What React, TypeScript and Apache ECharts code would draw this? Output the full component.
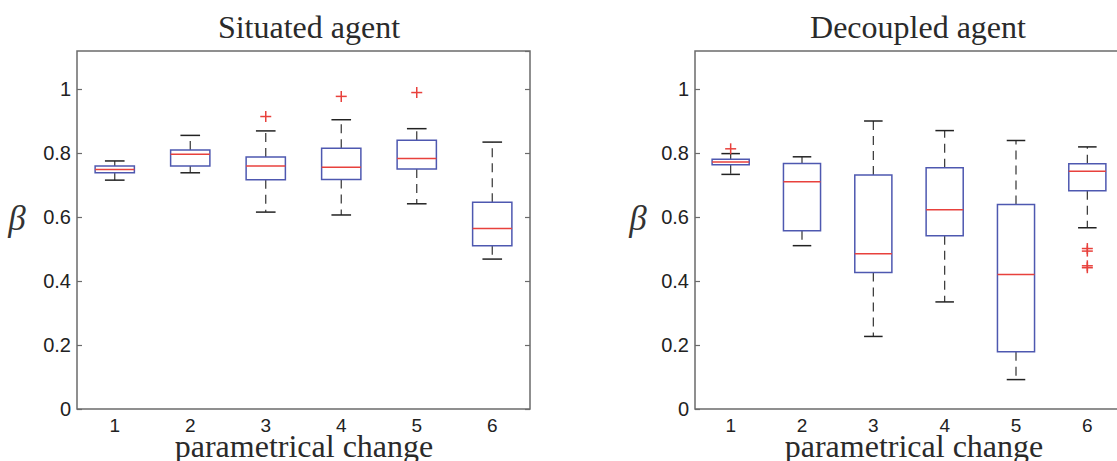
import React, { useEffect, useRef } from "react";
import * as echarts from "echarts";

const categories = ["1", "2", "3", "4", "5", "6"];
const yTicks = { min: 0, max: 1.12, interval: 0.2 };

// Situated agent
const situatedLow = [0.716, 0.739, 0.616, 0.607, 0.642, 0.469];
const situatedQ1 = [0.739, 0.760, 0.717, 0.718, 0.751, 0.511];
const situatedMedian = [0.749, 0.797, 0.760, 0.756, 0.784, 0.565];
const situatedQ3 = [0.760, 0.810, 0.788, 0.816, 0.841, 0.647];
const situatedHigh = [0.776, 0.856, 0.870, 0.905, 0.877, 0.835];
const situatedOutliers = [
  [2, 0.915],
  [3, 0.978],
  [4, 0.990],
];

// Decoupled agent
const decoupledLow = [0.734, 0.511, 0.227, 0.335, 0.092, 0.567];
const decoupledQ1 = [0.764, 0.558, 0.427, 0.542, 0.179, 0.683];
const decoupledMedian = [0.773, 0.711, 0.486, 0.623, 0.421, 0.744];
const decoupledQ3 = [0.781, 0.768, 0.732, 0.755, 0.640, 0.767];
const decoupledHigh = [0.799, 0.789, 0.901, 0.871, 0.840, 0.820];
const decoupledOutliers = [
  [0, 0.814],
  [5, 0.502],
  [5, 0.494],
  [5, 0.448],
  [5, 0.442],
];

const panelTitles = ["Situated agent", "Decoupled agent"];
const xAxisName = "parametrical change";
const yAxisName = "β";

const BOX_BLUE = "#4e58b0";
const MEDIAN_RED = "#e8413c";
const FRAME = "#6b6b6b";
const SANS = "Liberation Sans";
const SERIF = "Liberation Serif";

function boxData(low: number[], q1: number[], med: number[], q3: number[], high: number[]) {
  return categories.map((_, i) => [i, low[i], q1[i], med[i], q3[i], high[i]]);
}

function renderBox(params: any, api: any) {
  const x = api.value(0);
  const pLow = api.coord([x, api.value(1)]);
  const pQ1 = api.coord([x, api.value(2)]);
  const pMed = api.coord([x, api.value(3)]);
  const pQ3 = api.coord([x, api.value(4)]);
  const pHigh = api.coord([x, api.value(5)]);
  const band = api.size([1, 0])[0];
  const bw = band * 0.52;
  const cw = bw * 0.5;
  const cx = pMed[0];
  const dash = { stroke: "#333", lineWidth: 1.2, lineDash: [9, 6] };
  const cap = { stroke: "#222", lineWidth: 1.5 };
  return {
    type: "group",
    children: [
      { type: "line", shape: { x1: cx, y1: pQ3[1], x2: cx, y2: pHigh[1] }, style: dash },
      { type: "line", shape: { x1: cx, y1: pQ1[1], x2: cx, y2: pLow[1] }, style: dash },
      { type: "line", shape: { x1: cx - cw / 2, y1: pHigh[1], x2: cx + cw / 2, y2: pHigh[1] }, style: cap },
      { type: "line", shape: { x1: cx - cw / 2, y1: pLow[1], x2: cx + cw / 2, y2: pLow[1] }, style: cap },
      {
        type: "rect",
        shape: { x: cx - bw / 2, y: pQ3[1], width: bw, height: pQ1[1] - pQ3[1] },
        style: { fill: "none", stroke: BOX_BLUE, lineWidth: 1.5 },
      },
      {
        type: "line",
        shape: { x1: cx - bw / 2, y1: pMed[1], x2: cx + bw / 2, y2: pMed[1] },
        style: { stroke: MEDIAN_RED, lineWidth: 1.5 },
      },
    ],
  };
}

function renderPlus(params: any, api: any) {
  const p = api.coord([api.value(0), api.value(1)]);
  const h = 5.5;
  const st = { stroke: MEDIAN_RED, lineWidth: 1.5 };
  return {
    type: "group",
    children: [
      { type: "line", shape: { x1: p[0] - h, y1: p[1], x2: p[0] + h, y2: p[1] }, style: st },
      { type: "line", shape: { x1: p[0], y1: p[1] - h, x2: p[0], y2: p[1] + h }, style: st },
    ],
  };
}

function makeX(gridIndex: number) {
  return {
    type: "category",
    gridIndex,
    data: categories,
    boundaryGap: true,
    axisLine: { show: false },
    axisTick: { show: false },
    axisLabel: { fontFamily: SANS, fontSize: 19, color: "#222", margin: 7 },
  };
}

function makeY(gridIndex: number, position: string) {
  const left = position === "left";
  return {
    type: "value",
    gridIndex,
    position,
    min: yTicks.min,
    max: yTicks.max,
    interval: yTicks.interval,
    splitLine: { show: false },
    axisLine: { show: false },
    axisTick: { show: true, inside: true, length: 5, lineStyle: { color: FRAME, width: 1.2 } },
    axisLabel: {
      show: left,
      showMaxLabel: false,
      fontFamily: SANS,
      fontSize: 20,
      color: "#222",
      margin: 6,
    },
  };
}

function axisTexts(cx: number, betaX: number) {
  return [
    {
      type: "text",
      x: cx,
      y: 446,
      style: {
        text: xAxisName,
        font: `32px ${SERIF}`,
        fill: "#2a2a2a",
        align: "center",
        verticalAlign: "middle",
      },
    },
    {
      type: "text",
      x: betaX,
      y: 218,
      style: {
        text: yAxisName,
        font: `italic 35px ${SERIF}`,
        fill: "#333",
        align: "center",
        verticalAlign: "middle",
      },
    },
  ];
}

export default function App() {
  const ref = useRef<HTMLDivElement>(null);
  useEffect(() => {
    if (!ref.current) return;
    const chart = echarts.init(ref.current, null, { renderer: "svg" });
    const gridStyle = {
      show: true,
      borderColor: FRAME,
      borderWidth: 1.5,
      backgroundColor: "transparent",
      containLabel: false,
      outerBoundsMode: "none",
    };
    chart.setOption({
      animation: false,
      backgroundColor: "#ffffff",
      title: [
        {
          text: panelTitles[0],
          left: 304,
          top: 6,
          textAlign: "center",
          textStyle: { fontFamily: SERIF, fontSize: 32, fontWeight: "normal", color: "#2a2a2a" },
        },
        {
          text: panelTitles[1],
          left: 913,
          top: 6,
          textAlign: "center",
          textStyle: { fontFamily: SERIF, fontSize: 32, fontWeight: "normal", color: "#2a2a2a" },
        },
      ],
      grid: [
        { left: 77, top: 51, width: 453, height: 358, ...gridStyle },
        { left: 695, top: 51, width: 428, height: 358, ...gridStyle },
      ],
      xAxis: [makeX(0), makeX(1)],
      yAxis: [makeY(0, "left"), makeY(0, "right"), makeY(1, "left"), makeY(1, "right")],
      graphic: [...axisTexts(304, 17), ...axisTexts(914, 638)],
      series: [
        {
          type: "custom",
          xAxisIndex: 0,
          yAxisIndex: 0,
          renderItem: renderBox,
          data: boxData(situatedLow, situatedQ1, situatedMedian, situatedQ3, situatedHigh),
        },
        {
          type: "custom",
          xAxisIndex: 0,
          yAxisIndex: 0,
          renderItem: renderPlus,
          data: situatedOutliers,
        },
        {
          type: "custom",
          xAxisIndex: 1,
          yAxisIndex: 2,
          renderItem: renderBox,
          data: boxData(decoupledLow, decoupledQ1, decoupledMedian, decoupledQ3, decoupledHigh),
        },
        {
          type: "custom",
          xAxisIndex: 1,
          yAxisIndex: 2,
          renderItem: renderPlus,
          data: decoupledOutliers,
        },
      ],
    });
    return () => chart.dispose();
  }, []);
  return (
    <div
      ref={ref}
      style={{ position: "absolute", left: 0, top: 0, width: 1117, height: 461, background: "#fff" }}
    />
  );
}
